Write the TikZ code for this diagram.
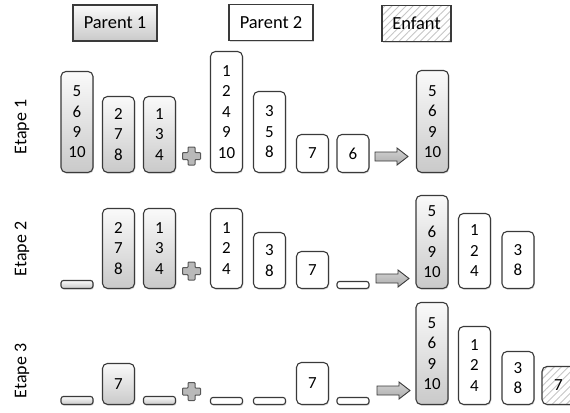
\documentclass[tikz,border=0pt]{standalone}
\usepackage{fontspec}
\setmainfont{Carlito}
\usetikzlibrary{shadows,patterns.meta}
\definecolor{edgec}{HTML}{3A3A3A}
\tikzset{
  x=1bp, y=-1bp,
  shad/.style={drop shadow={opacity=0.3, shadow xshift=0.8bp, shadow yshift=-1.2bp}},
  base/.style={draw=edgec, line width=1.1bp, rounded corners=5bp, inner sep=0pt,
    align=center, anchor=south, minimum width=32bp, shad,
    font=\fontsize{17}{20.5}\selectfont},
  p1/.style={base, top color=gray!4, bottom color=gray!42},
  p2/.style={base, fill=white},
  hatchfill/.style={preaction={fill=white},
    preaction={pattern={Lines[angle=45,distance=5bp,line width=0.9bp]}, pattern color=gray!45}},
  hatchbox/.style={base, hatchfill},
  p1bar/.style={p1, minimum height=8bp, rounded corners=2.5bp},
  p2bar/.style={p2, minimum height=7bp, rounded corners=2.5bp},
  hdr/.style={draw=edgec, line width=1.1bp, inner sep=0pt, minimum height=36bp,
    font=\fontsize{18.5}{20}\selectfont, shad},
  lbl/.style={rotate=90, font=\fontsize{18}{20}\selectfont},
  plussign/.pic={
    \draw[draw=edgec!85, fill=gray!55, line width=1bp, rounded corners=0.8bp]
      (-3.5,-9) -- (3.5,-9) -- (3.5,-3.5) -- (9,-3.5) -- (9,3.5) -- (3.5,3.5) -- (3.5,9)
      -- (-3.5,9) -- (-3.5,3.5) -- (-9,3.5) -- (-9,-3.5) -- (-3.5,-3.5) -- cycle;
  },
  blockarrow/.pic={
    \draw[draw=edgec, top color=gray!35, bottom color=gray!65, line width=0.9bp]
      (0,-4.5) -- (22,-4.5) -- (22,-8.5) -- (33,0) -- (22,8.5) -- (22,4.5)
      -- (0,4.5) -- cycle;
  }
}
\begin{document}
\begin{tikzpicture}
\clip (0,0) rectangle (570,412);
\fill[white] (0,0) rectangle (570,412);

% headers
\node[hdr, top color=gray!4, bottom color=gray!42, minimum width=84bp] (h1) at (115,23) {Parent 1};
\node[hdr, fill=white, minimum width=84bp] (h2) at (271,22.5) {Parent 2};
\node[hdr, hatchfill, minimum width=69bp] (h3) at (416.5,23.5) {Enfant};

% labels
\node[lbl] (e1) at (22,127) {Etape 1};
\node[lbl] (e2) at (22,249) {Etape 2};
\node[lbl] (e3) at (22,371) {Etape 3};

% ---- Etape 1 (bottom 173)
\node[p1, minimum height=101bp] (a1) at (77,173) {5\\6\\9\\10};
\node[p1, minimum height=76bp] (a2) at (118.5,173) {2\\7\\8};
\node[p1, minimum height=76bp] (a3) at (159.5,173) {1\\3\\4};
\pic at (191.5,156) {plussign};
\node[p2, minimum height=121bp] (a4) at (226.5,173) {1\\2\\4\\9\\10};
\node[p2, minimum height=81bp] (a5) at (269.5,173) {3\\5\\8};
\node[p2, minimum height=38bp] (a6) at (312.5,173) {7};
\node[p2, minimum height=38bp] (a7) at (353,173) {6};
\pic at (375,156.5) {blockarrow};
\node[p1, minimum height=102bp] (a8) at (432.5,173) {5\\6\\9\\10};

% ---- Etape 2 (bottom 289)
\node[p1bar] (b1) at (77,289) {};
\node[p1, minimum height=80bp] (b2) at (118.5,289) {2\\7\\8};
\node[p1, minimum height=80bp] (b3) at (159.5,289) {1\\3\\4};
\pic at (191.5,271) {plussign};
\node[p2, minimum height=80bp] (b4) at (226.5,289) {1\\2\\4};
\node[p2, minimum height=56bp] (b5) at (269.5,289) {3\\8};
\node[p2, minimum height=37bp] (b6) at (312.5,289) {7};
\node[p2bar] (b7) at (353,289) {};
\pic at (376,278.5) {blockarrow};
\node[p1, minimum height=93bp] (b8) at (432,289) {5\\6\\9\\10};
\node[p2, minimum height=75bp] (b9) at (474.5,289) {1\\2\\4};
\node[p2, minimum height=57bp] (b10) at (518,289) {3\\8};

% ---- Etape 3 (bottom 405)
\node[p1bar] (c1) at (77,405) {};
\node[p1, minimum height=41bp] (c2) at (118.5,405) {7};
\node[p1bar] (c3) at (159.5,405) {};
\pic at (191.5,391.5) {plussign};
\node[p2bar] (c4) at (226.5,405) {};
\node[p2bar] (c5) at (269.5,405) {};
\node[p2, minimum height=42bp] (c6) at (312.5,405) {7};
\node[p2bar] (c7) at (353,405) {};
\pic at (377,390.5) {blockarrow};
\node[p1, minimum height=102bp] (c8) at (432,405) {5\\6\\9\\10};
\node[p2, minimum height=78bp] (c9) at (474.5,405) {1\\2\\4};
\node[p2, minimum height=53bp] (c10) at (518,405) {3\\8};
\node[hatchbox, minimum height=38bp, minimum width=33bp] (c11) at (558.5,405) {7};
\end{tikzpicture}
\end{document}
